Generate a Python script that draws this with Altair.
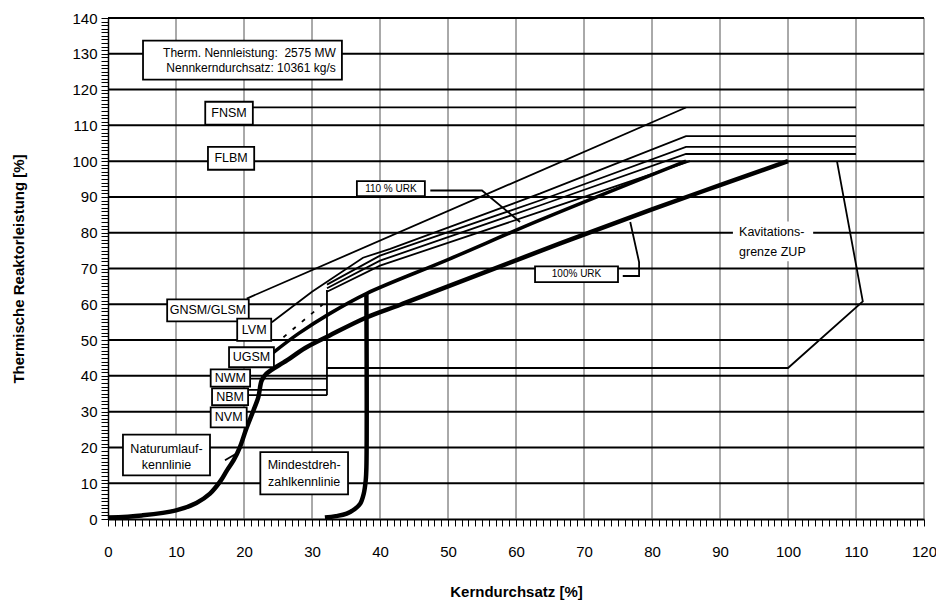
import altair as alt
import pandas as pd

# ---------------- data ----------------
grid_x = list(range(10, 121, 10))
grid_y = list(range(10, 141, 10))

# thick curves
natur_x = [0, 5, 10, 13, 15, 16.5, 17.5, 18.5, 19.4, 20.3, 21.4, 22.1, 22.6, 23.3, 26.3, 29, 32.6, 38, 42.9, 50, 66.5, 80, 90, 100]
natur_y = [0.4, 1.0, 2.4, 4.5, 7.1, 10.5, 13.6, 16.5, 20.1, 25, 30.4, 34, 38.7, 40.6, 44.3, 47.8, 51.3, 56.3, 59.8, 65, 77, 86.5, 93.3, 100]
t1_x = [24.3, 28, 32.6, 38, 50, 63.5, 85]
t1_y = [46.5, 51.8, 57.4, 63, 72.5, 83.5, 100]
mind_x = [31.9, 33.5, 35.1, 36.3, 37.1, 37.6, 37.9, 38, 38]
mind_y = [0.4, 0.8, 1.5, 2.8, 4.3, 7, 10.8, 14.5, 63]

# thin lines
l115_x = [20.4, 85]
l115_y = [61.6, 115]
fnsm_x = [21.3, 110]
fnsm_y = [115, 115]
l107_x = [24.1, 30, 37.5, 41.5, 63.5, 85, 110]
l107_y = [55, 63.5, 73, 75.5, 90.9, 107, 107]
l104_x = [32.2, 40, 63.5, 85, 110]
l104_y = [65.5, 73.6, 89, 104, 104]
l102_x = [32.2, 40, 63.5, 85, 110]
l102_y = [64.5, 72.2, 87.6, 102, 102]
l100_x = [32.2, 40, 63.5, 85.6]
l100_y = [63.5, 70.8, 85.8, 100]
nwm_x = [20.9, 32.2]
nwm_y = [39.2, 39.2]
nbm1_x = [20.6, 32.2]
nbm1_y = [36.1, 36.1]
nbm2_x = [20.6, 32.2]
nbm2_y = [34.6, 34.6]
vert_x = [32.2, 32.2]
vert_y = [34.6, 64]
kav_x = [32.2, 100, 111, 107.2]
kav_y = [42.2, 42.2, 60.8, 100]
urk110_x = [47.4, 55, 60.6]
urk110_y = [91.8, 91.8, 83]
urk100_x = [75.7, 78.1, 78.1, 76.8]
urk100_y = [67.9, 67.9, 71.8, 83]
ptr_x = [17.2, 18.9]
ptr_y = [16.4, 18.3]
dash_x = [25.8, 31.6]
dash_y = [50.8, 60]

# label boxes
box_names = ["info", "FNSM", "FLBM", "GNSM/GLSM", "LVM", "UGSM", "NWM", "NBM", "NVM",
             "natur", "mind", "110 % URK", "100% URK"]
box_x1 = [5.15, 14.3, 14.7, 8.7, 19.0, 17.8, 15.1, 15.3, 15.1, 2.2, 22.4, 36.6, 62.8]
box_x2 = [34.4, 21.3, 21.5, 20.7, 24.0, 24.4, 20.9, 20.6, 20.4, 15.0, 35.3, 46.6, 75.0]
box_y1 = [122.8, 110.2, 97.6, 55.2, 49.8, 42.4, 37.0, 31.8, 25.6, 12.2, 6.9, 90.2, 66.2]
box_y2 = [133.7, 116.6, 104.0, 61.4, 56.0, 48.0, 41.8, 36.5, 31.2, 23.6, 18.7, 94.4, 70.6]

# centered texts
ctext = ["FNSM", "FLBM", "GNSM/GLSM", "LVM", "UGSM", "NWM", "NBM", "NVM",
         "Naturumlauf-", "kennlinie", "Mindestdreh-", "zahlkennlinie", "110 % URK", "100% URK"]
ctext_x = [17.8, 18.1, 14.7, 21.5, 21.1, 18.0, 17.95, 17.75, 8.6, 8.6, 28.85, 28.85, 41.6, 68.9]
ctext_y = [113.4, 100.8, 58.3, 52.9, 45.2, 39.4, 34.15, 28.4, 19.7, 15.0, 15.0, 10.3, 92.3, 68.4]
ctext_size = [12.5, 12.5, 12.5, 12.5, 12.5, 12.5, 12.5, 12.5, 12.5, 12.5, 12.5, 12.5, 10, 10]

# right-aligned texts (info box)
rtext = ["Therm. Nennleistung:\u00a0 2575 MW", "Nennkerndurchsatz: 10361 kg/s"]
rtext_x = [33.5, 33.5]
rtext_y = [130.1, 125.9]

# left-aligned texts (Kavitationsgrenze)
ltext = ["Kavitations-", "grenze ZUP"]
ltext_x = [92.8, 92.8]
ltext_y = [80.2, 74.6]
kav_bg = [91.9, 103.7, 72.0, 83.1]

FONT = "Liberation Sans"

# ---------------- build tables ----------------
def poly(name, xs, ys):
    return pd.DataFrame({"x": xs, "y": ys, "id": name, "o": list(range(len(xs)))})

thin_df = pd.concat([
    poly("l115", l115_x, l115_y), poly("fnsm", fnsm_x, fnsm_y),
    poly("l107", l107_x, l107_y), poly("l104", l104_x, l104_y),
    poly("l102", l102_x, l102_y), poly("l100", l100_x, l100_y),
    poly("nwm", nwm_x, nwm_y), poly("nbm1", nbm1_x, nbm1_y), poly("nbm2", nbm2_x, nbm2_y),
    poly("vert", vert_x, vert_y), poly("kav", kav_x, kav_y),
    poly("u110", urk110_x, urk110_y), poly("u100", urk100_x, urk100_y),
    poly("ptr", ptr_x, ptr_y),
])
thick_df = pd.concat([poly("natur", natur_x, natur_y), poly("mind", mind_x, mind_y)])
t1_df = poly("t1", t1_x, t1_y)
dash_df = poly("dash", dash_x, dash_y)

box_df = pd.DataFrame({"n": box_names, "x1": box_x1, "x2": box_x2, "y1": box_y1, "y2": box_y2})
bg_df = pd.DataFrame({"x1": [kav_bg[0]], "x2": [kav_bg[1]], "y1": [kav_bg[2]], "y2": [kav_bg[3]]})
ct_df = pd.DataFrame({"t": ctext, "x": ctext_x, "y": ctext_y, "s": ctext_size})
rt_df = pd.DataFrame({"t": rtext, "x": rtext_x, "y": rtext_y})
lt_df = pd.DataFrame({"t": ltext, "x": ltext_x, "y": ltext_y})
gx_df = pd.DataFrame({"x": grid_x})
gy_df = pd.DataFrame({"y": grid_y})

# ---------------- scales/axes ----------------
xscale = alt.Scale(domain=[0, 120], nice=False, zero=False)
yscale = alt.Scale(domain=[0, 140], nice=False, zero=False)

xaxis = alt.Axis(
    values=list(range(0, 121)),
    labelExpr="datum.value % 10 == 0 ? datum.label : ''",
    grid=False, tickSize=7, tickColor="black", tickWidth=1,
    domainColor="black", domainWidth=2,
    labelFontSize=15, labelFont=FONT, labelColor="black", labelPadding=18,
    labelOverlap=False, labelFlush=False,
    title="Kerndurchsatz [%]", titleFontSize=15, titleFont=FONT,
    titleFontWeight="bold", titleColor="black", titlePadding=25,
)
yaxis = alt.Axis(
    values=list(range(0, 141)),
    labelExpr="datum.value % 10 == 0 ? datum.label : ''",
    grid=False, tickSize=7, tickColor="black", tickWidth=1,
    domainColor="black", domainWidth=1.5,
    labelFontSize=15, labelFont=FONT, labelColor="black", labelPadding=4,
    labelOverlap=False, labelFlush=False,
    title="Thermische Reaktorleistung [%]", titleFontSize=15, titleFont=FONT,
    titleFontWeight="bold", titleColor="black", titlePadding=45,
)

def X(f="x"):
    return alt.X(f"{f}:Q", scale=xscale, axis=xaxis)

def Y(f="y"):
    return alt.Y(f"{f}:Q", scale=yscale, axis=yaxis)

vgrid = alt.Chart(gx_df).mark_rule(color="#555555", strokeWidth=1).encode(x=X())
hgrid = alt.Chart(gy_df).mark_rule(color="black", strokeWidth=2).encode(y=Y())

thin = alt.Chart(thin_df).mark_line(color="black", strokeWidth=1.8).encode(
    x=X(), y=Y(), detail="id:N", order="o:Q")
dashed = alt.Chart(dash_df).mark_line(color="black", strokeWidth=1.8, strokeDash=[4, 8]).encode(
    x=X(), y=Y(), detail="id:N", order="o:Q")
thick = alt.Chart(thick_df).mark_line(color="black", strokeWidth=4.5, strokeJoin="round",
                                      interpolate="catmull-rom").encode(
    x=X(), y=Y(), detail="id:N", order="o:Q")
t1 = alt.Chart(t1_df).mark_line(color="black", strokeWidth=3.6, strokeJoin="round",
                                interpolate="catmull-rom").encode(
    x=X(), y=Y(), detail="id:N", order="o:Q")

bg = alt.Chart(bg_df).mark_rect(fill="white").encode(
    x=X("x1"), x2="x2:Q", y=Y("y1"), y2="y2:Q")
boxes = alt.Chart(box_df).mark_rect(fill="white", stroke="black", strokeWidth=1.8).encode(
    x=X("x1"), x2="x2:Q", y=Y("y1"), y2="y2:Q")

ctexts = alt.Chart(ct_df).mark_text(font=FONT, color="black", align="center", baseline="middle").encode(
    x=X(), y=Y(), text="t:N", size=alt.Size("s:Q", scale=None, legend=None))
rtexts = alt.Chart(rt_df).mark_text(font=FONT, color="black", align="right", baseline="middle", fontSize=12).encode(
    x=X(), y=Y(), text="t:N")
ltexts = alt.Chart(lt_df).mark_text(font=FONT, color="black", align="left", baseline="middle", fontSize=12.5).encode(
    x=X(), y=Y(), text="t:N")

chart = alt.layer(
    vgrid, hgrid, thin, dashed, thick, t1, bg, boxes, ctexts, rtexts, ltexts
).properties(
    width=816, height=501,
    autosize=alt.AutoSizeParams(type="none"),
    padding={"left": 100, "top": 10, "right": 12, "bottom": 81},
).configure_view(stroke=None)

chart.save("out.html", embed_options={"renderer": "svg", "actions": False})
